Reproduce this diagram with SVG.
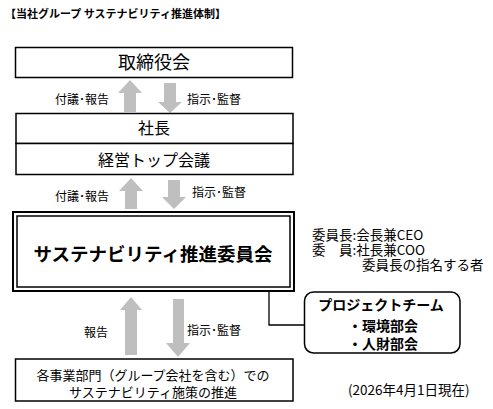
<svg xmlns="http://www.w3.org/2000/svg" width="493" height="409" viewBox="0 0 493 409">
<style>
text{font-family:"Noto Sans CJK JP","Liberation Sans",sans-serif;fill:#000}
.box{fill:#fff;stroke:#000;stroke-width:1.5}
.arr{fill:#bfbfbf}
.lbl{font-size:12px}
.note{font-size:13.5px}
.pt{font-size:14px;font-weight:bold}
</style>
<rect width="493" height="409" fill="#fff"/>
<text x="5" y="18" font-size="11" font-weight="bold">【当社グループ サステナビリティ推進体制】</text>

<g id="connectors">
  <g id="arrows1">
    <polygon class="arr" points="130,80 142,93 136,93 136,112 124,112 124,93 118,93"/>
    <polygon class="arr" points="164,83 176,83 176,102 182,102 170,113 158,102 164,102"/>
  </g>
  <g id="arrows2">
    <polygon class="arr" points="131,178 143,191 137,191 137,209 125,209 125,191 119,191"/>
    <polygon class="arr" points="168,180 180,180 180,197 186,197 174,209 162,197 168,197"/>
  </g>
  <g id="arrows3">
    <polygon class="arr" points="131,297 142,310 137,310 137,355 125,355 125,310 120,310"/>
    <polygon class="arr" points="173,299 184,299 184,343 190,343 178,357 166,343 173,343"/>
  </g>
  <polyline points="269,291 269,325 304,325" fill="none" stroke="#000" stroke-width="1.3"/>
  <text class="lbl" x="55" y="104">付議･報告</text>
  <text class="lbl" x="187" y="104">指示･監督</text>
  <text class="lbl" x="55" y="201">付議･報告</text>
  <text class="lbl" x="192" y="197">指示･監督</text>
  <text class="lbl" x="84" y="337">報告</text>
  <text class="lbl" x="187" y="335">指示･監督</text>
</g>

<g id="board">
  <rect class="box" x="15.5" y="47.5" width="277" height="30"/>
  <text x="154" y="69" font-size="18" text-anchor="middle">取締役会</text>
</g>
<g id="president">
  <rect class="box" x="16" y="113.5" width="277" height="30"/>
  <text x="154" y="134" font-size="16" text-anchor="middle">社長</text>
</g>
<g id="top-meeting">
  <rect class="box" x="16" y="143.5" width="277" height="31"/>
  <text x="154" y="165.5" font-size="16" text-anchor="middle">経営トップ会議</text>
</g>
<g id="committee">
  <rect x="13" y="212" width="281" height="79" fill="#fff" stroke="#000" stroke-width="2"/>
  <rect x="17" y="216" width="273" height="71" fill="none" stroke="#000" stroke-width="1.5"/>
  <text x="153" y="261" font-size="18.5" font-weight="bold" text-anchor="middle">サステナビリティ推進委員会</text>
</g>
<g id="members">
  <text class="note"><tspan x="312" y="240">委員長:会長兼CEO</tspan><tspan x="312" y="255">委　員:社長兼COO</tspan><tspan x="362" y="270">委員長の指名する者</tspan></text>
</g>
<g id="project-team">
  <rect x="304.5" y="292" width="155.5" height="61" rx="9" fill="#fff" stroke="#000" stroke-width="1.5"/>
  <text class="pt" text-anchor="middle"><tspan x="381" y="310">プロジェクトチーム</tspan><tspan x="383" y="331">・環境部会</tspan><tspan x="383" y="349">・人財部会</tspan></text>
</g>
<g id="divisions">
  <rect class="box" x="15.5" y="359" width="277.5" height="42"/>
  <text font-size="13" text-anchor="middle"><tspan x="153" y="380">各事業部門（グループ会社を含む）での</tspan><tspan x="153" y="397">サステナビリティ施策の推進</tspan></text>
</g>
<text x="348" y="395" font-size="13.5">(2026年4月1日現在)</text>
</svg>
